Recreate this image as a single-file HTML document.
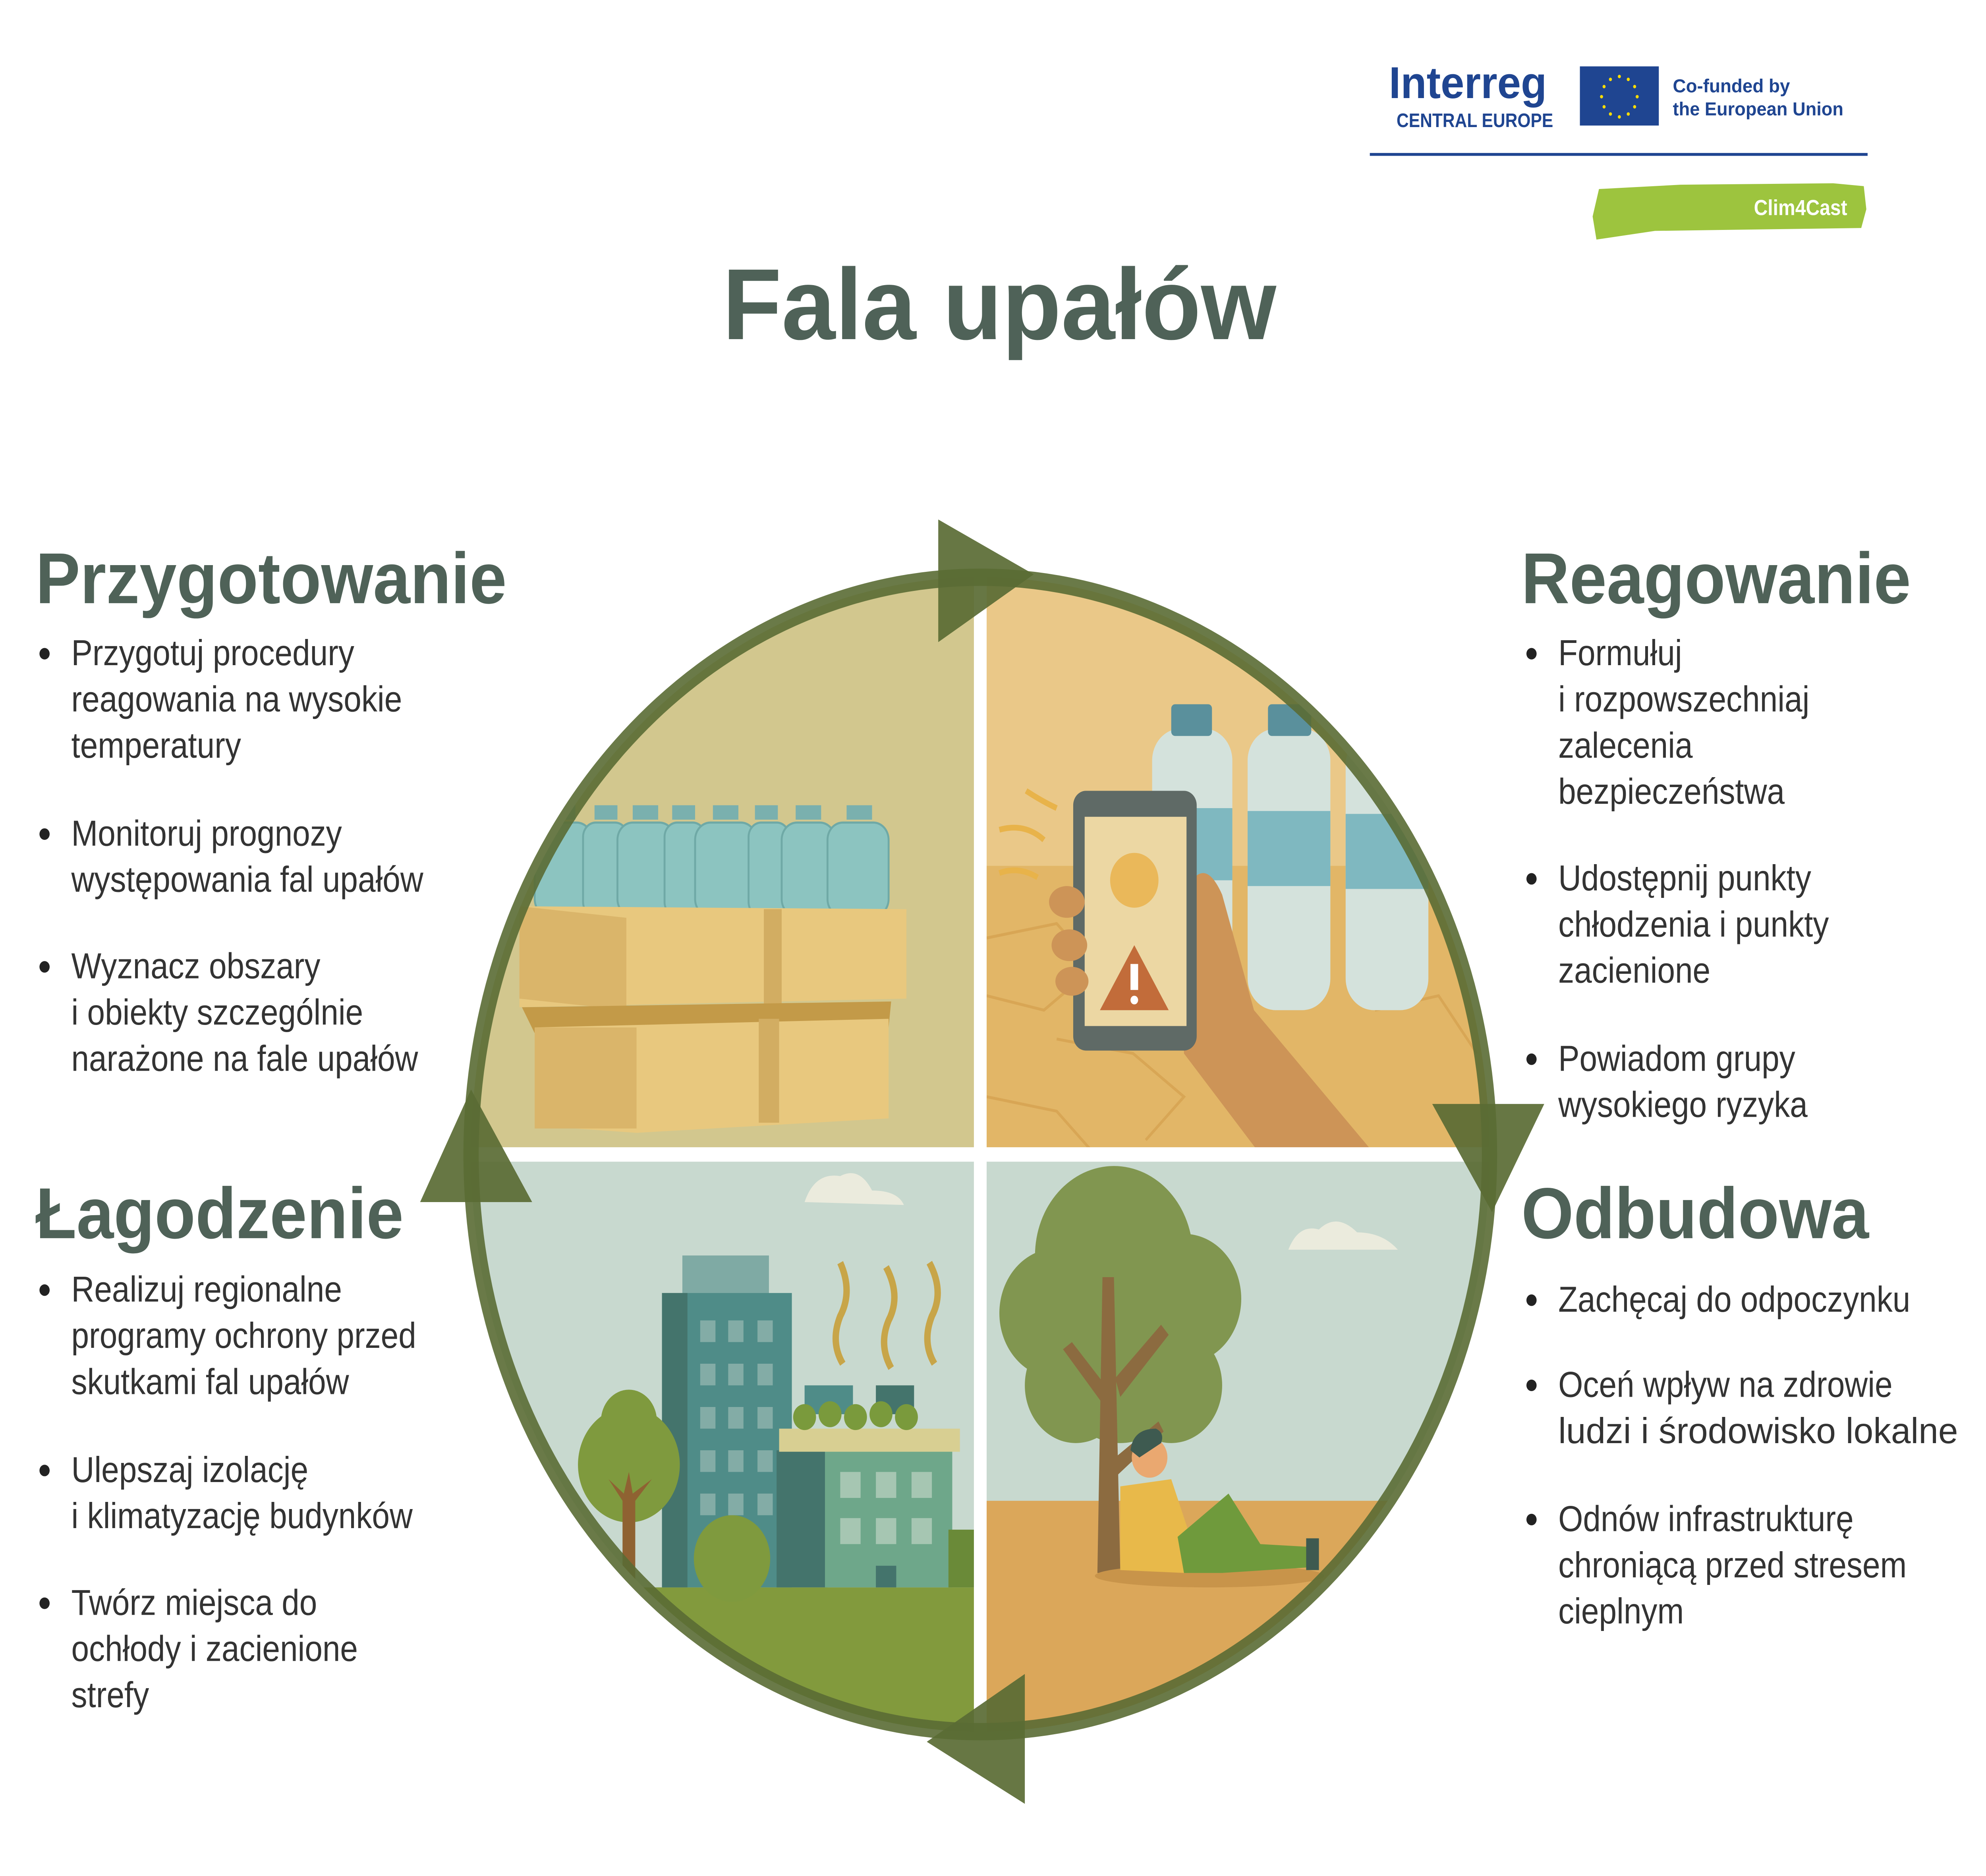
<!DOCTYPE html>
<html><head><meta charset="utf-8"><style>html,body{margin:0;padding:0;background:#fff;width:100%;height:100%;overflow:hidden}svg{display:block;width:100vw;height:100vh}</style></head>
<body>
<svg viewBox="0 0 1560 1300" preserveAspectRatio="none" xmlns="http://www.w3.org/2000/svg" font-family="'Liberation Sans', sans-serif">
<defs>
<clipPath id="c"><circle cx="770" cy="800" r="400"/></clipPath>
</defs>
<rect width="1560" height="1300" fill="#fff"/>
<text x="1091" y="68" font-size="31" font-weight="bold" fill="#1f4591" textLength="124" lengthAdjust="spacingAndGlyphs">Interreg</text>
<text x="1097" y="88" font-size="13.5" font-weight="bold" fill="#1f4591" textLength="123" lengthAdjust="spacingAndGlyphs">CENTRAL EUROPE</text>
<rect x="1241" y="46" width="62" height="41" fill="#1f4591"/>
<g fill="#ffdd00">
<circle cx="1272" cy="53" r="1.2"/><circle cx="1279" cy="55" r="1.2"/><circle cx="1284" cy="60" r="1.2"/><circle cx="1286" cy="67" r="1.2"/><circle cx="1284" cy="74" r="1.2"/><circle cx="1279" cy="79" r="1.2"/><circle cx="1272" cy="81" r="1.2"/><circle cx="1265" cy="79" r="1.2"/><circle cx="1260" cy="74" r="1.2"/><circle cx="1258" cy="67" r="1.2"/><circle cx="1260" cy="60" r="1.2"/><circle cx="1265" cy="55" r="1.2"/>
</g>
<text x="1314" y="64" font-size="13" font-weight="bold" fill="#1f4591" textLength="92" lengthAdjust="spacingAndGlyphs">Co-funded by</text>
<text x="1314" y="80" font-size="13" font-weight="bold" fill="#1f4591" textLength="134" lengthAdjust="spacingAndGlyphs">the European Union</text>
<rect x="1076" y="106" width="391" height="2" fill="#1f4591"/>
<path d="M1256 131 L1320 128 L1440 127 L1464 129 L1466 145 L1462 158 L1300 160 L1254 166 L1251 150 Z" fill="#9dc43e"/>
<text x="1451" y="149" font-size="15" font-weight="bold" fill="#fff" text-anchor="end">Clim4Cast</text>
<text x="785" y="235" font-size="70" font-weight="bold" fill="#4f6258" text-anchor="middle" textLength="435" lengthAdjust="spacingAndGlyphs">Fala upałów</text>

<g clip-path="url(#c)">
<rect x="360" y="390" width="410" height="410" fill="#d2c78e"/>
<rect x="770" y="390" width="420" height="410" fill="#eac888"/>
<rect x="770" y="600" width="420" height="200" fill="#e2b667"/>
<rect x="360" y="800" width="410" height="420" fill="#c8d9cf"/>
<rect x="770" y="800" width="420" height="420" fill="#c8d9cf"/>
<rect x="770" y="1040" width="420" height="180" fill="#dba75a"/>
<rect x="360" y="1100" width="410" height="120" fill="#829a3d"/>
<g fill="#8cc4c0" stroke="#6fa9a6" stroke-width="1.5">
<rect x="420" y="570" width="45" height="65" rx="12"/><rect x="458" y="570" width="35" height="65" rx="10"/><rect x="485" y="570" width="45" height="65" rx="12"/><rect x="522" y="570" width="32" height="65" rx="10"/><rect x="546" y="570" width="48" height="65" rx="12"/><rect x="588" y="570" width="32" height="65" rx="10"/><rect x="614" y="570" width="42" height="65" rx="12"/><rect x="650" y="570" width="48" height="65" rx="12"/>
</g>
<g fill="#7ab0ae"><rect x="432" y="558" width="20" height="10"/><rect x="467" y="558" width="18" height="10"/><rect x="497" y="558" width="20" height="10"/><rect x="528" y="558" width="18" height="10"/><rect x="560" y="558" width="20" height="10"/><rect x="593" y="558" width="18" height="10"/><rect x="625" y="558" width="20" height="10"/><rect x="665" y="558" width="20" height="10"/></g>
<path d="M408 628 L712 630 L712 692 L408 698 Z" fill="#e8c87e"/>
<path d="M408 628 L492 636 L492 700 L408 692 Z" fill="#dab56a"/>
<rect x="600" y="630" width="14" height="68" fill="#d2ad62"/>
<path d="M410 698 L700 694 L698 712 L420 716 Z" fill="#c39a48"/>
<path d="M420 712 L698 706 L698 775 L500 785 L420 780 Z" fill="#e8c87e"/>
<rect x="420" y="712" width="80" height="70" fill="#dab56a"/>
<rect x="596" y="706" width="16" height="72" fill="#d2ad62"/>
<g stroke="#d8a655" stroke-width="2" fill="none"><path d="M775 650 L830 640 L860 670 L820 700 L775 690 M830 720 L890 730 L930 760 L900 790 M775 760 L830 770 L860 800 M960 720 L1010 740 L1040 790 M1080 700 L1130 690 L1160 730"/></g>
<g>
<rect x="905" y="505" width="63" height="195" rx="22" fill="#d4e2dc"/><rect x="905" y="560" width="63" height="50" fill="#7fb8c0"/><rect x="920" y="488" width="32" height="22" rx="3" fill="#5a909c"/>
<rect x="980" y="505" width="65" height="195" rx="22" fill="#d4e2dc"/><rect x="980" y="562" width="65" height="52" fill="#7fb8c0"/><rect x="996" y="488" width="34" height="22" rx="3" fill="#5a909c"/>
<rect x="1057" y="508" width="65" height="192" rx="22" fill="#d4e2dc"/><rect x="1057" y="564" width="65" height="52" fill="#7fb8c0"/><rect x="1073" y="490" width="34" height="22" rx="3" fill="#5a909c"/>
</g>
<path d="M930 620 Q945 590 960 620 L985 700 L1080 800 L990 800 L930 730 Z" fill="#cd9457"/>
<rect x="843" y="548" width="97" height="180" rx="10" fill="#5f6a66"/>
<rect x="852" y="566" width="80" height="145" fill="#ecd7a3"/>
<circle cx="891" cy="610" r="19" fill="#eab85a"/>
<path d="M891 655 L918 700 L864 700 Z" fill="#c26c3a"/>
<rect x="888" y="668" width="6" height="18" fill="#fff"/><circle cx="891" cy="693" r="3" fill="#fff"/>
<g fill="#cd9457"><ellipse cx="838" cy="625" rx="14" ry="11"/><ellipse cx="840" cy="655" rx="14" ry="11"/><ellipse cx="842" cy="680" rx="13" ry="10"/></g>
<g stroke="#e8b34a" stroke-width="4" fill="none"><path d="M806 548 Q818 555 830 560"/><path d="M785 575 Q805 570 820 582"/><path d="M785 605 Q800 600 815 608"/></g>
<path d="M632 833 Q640 812 660 815 Q675 808 685 825 Q705 825 710 835 Z" fill="#ebebdd"/>
<rect x="536" y="870" width="68" height="30" fill="#7faaa4"/>
<rect x="520" y="896" width="102" height="204" fill="#4f8c88"/>
<rect x="520" y="896" width="20" height="204" fill="#44746c"/>
<g fill="#83aca6"><rect x="550" y="915" width="12" height="15"/><rect x="572" y="915" width="12" height="15"/><rect x="595" y="915" width="12" height="15"/><rect x="550" y="945" width="12" height="15"/><rect x="572" y="945" width="12" height="15"/><rect x="595" y="945" width="12" height="15"/><rect x="550" y="975" width="12" height="15"/><rect x="572" y="975" width="12" height="15"/><rect x="595" y="975" width="12" height="15"/><rect x="550" y="1005" width="12" height="15"/><rect x="572" y="1005" width="12" height="15"/><rect x="595" y="1005" width="12" height="15"/><rect x="550" y="1035" width="12" height="15"/><rect x="572" y="1035" width="12" height="15"/><rect x="595" y="1035" width="12" height="15"/></g>
<rect x="610" y="1005" width="40" height="95" fill="#44746c"/>
<rect x="648" y="1005" width="100" height="95" fill="#6ea78a"/>
<rect x="612" y="990" width="142" height="16" fill="#d8cf92"/>
<rect x="632" y="960" width="38" height="20" fill="#4f8c88"/><rect x="688" y="960" width="30" height="20" fill="#44746c"/>
<g fill="#7a9a3c"><circle cx="632" cy="982" r="9"/><circle cx="652" cy="980" r="9"/><circle cx="672" cy="982" r="9"/><circle cx="692" cy="980" r="9"/><circle cx="712" cy="982" r="9"/></g>
<g fill="#a6c6b2"><rect x="660" y="1020" width="16" height="18"/><rect x="688" y="1020" width="16" height="18"/><rect x="716" y="1020" width="16" height="18"/><rect x="660" y="1052" width="16" height="18"/><rect x="688" y="1052" width="16" height="18"/><rect x="716" y="1052" width="16" height="18"/></g>
<rect x="688" y="1085" width="16" height="15" fill="#44746c"/>
<g stroke="#c8a548" stroke-width="5" fill="none"><path d="M660 875 Q670 895 660 912 Q652 930 662 945"/><path d="M696 878 Q708 898 698 915 Q690 932 700 948"/><path d="M730 875 Q742 895 732 912 Q724 930 734 945"/></g>
<circle cx="494" cy="1015" r="40" fill="#7f9a3e"/><circle cx="494" cy="985" r="22" fill="#7f9a3e"/>
<path d="M489 1040 L489 1100 L499 1100 L499 1040 L512 1025 L497 1035 L494 1020 L490 1035 L478 1025 Z" fill="#8f6232"/>
<circle cx="575" cy="1080" r="30" fill="#7f9a3e"/>
<rect x="745" y="1060" width="25" height="40" fill="#6a8a38"/>
<path d="M1012 866 Q1020 848 1036 852 Q1050 840 1066 854 Q1086 854 1098 866 Z" fill="#ebebdd"/>
<g fill="#819650"><circle cx="875" cy="870" r="62"/><circle cx="830" cy="910" r="45"/><circle cx="930" cy="900" r="45"/><circle cx="845" cy="960" r="40"/><circle cx="920" cy="960" r="40"/><circle cx="880" cy="950" r="50"/></g>
<path d="M866 885 L875 885 L880 1090 L862 1090 Z" fill="#8c6b40"/>
<path d="M868 975 L835 935 L842 930 L870 962 Z M876 955 L912 918 L918 925 L880 968 Z M876 1010 L910 985 L914 992 L878 1022 Z" fill="#8c6b40"/>
<ellipse cx="950" cy="1092" rx="90" ry="8" fill="#c8944a"/>
<path d="M880 1030 L920 1025 L935 1065 L930 1090 L880 1088 Z" fill="#e8b94a"/>
<circle cx="903" cy="1010" r="14" fill="#eaa870"/>
<path d="M888 1005 Q890 990 908 990 Q915 993 912 1000 L895 1010 Z" fill="#3e5a50"/>
<path d="M925 1065 L965 1035 L990 1070 L1030 1072 L1030 1086 L960 1090 L930 1090 Z" fill="#6f9a3c"/>
<rect x="1026" y="1066" width="10" height="22" fill="#3e5a50"/>
</g>
<rect x="765" y="380" width="10" height="840" fill="#fff"/>
<rect x="360" y="795" width="820" height="10" fill="#fff"/>
<circle cx="770" cy="800" r="400" fill="none" stroke="#5a6b34" stroke-width="12" opacity="0.9"/>
<g fill="#5a6b34" opacity="0.92">
<path d="M737 360 L812 398 L737 445 Z"/>
<path d="M1125 765 L1213 765 L1172 840 Z"/>
<path d="M805 1160 L728 1207 L805 1250 Z"/>
<path d="M330 833 L370 755 L418 833 Z"/>
</g>
<g font-size="50" font-weight="bold" fill="#4f6258">
<text x="28" y="418" textLength="370" lengthAdjust="spacingAndGlyphs">Przygotowanie</text>
<text x="28" y="858" textLength="289" lengthAdjust="spacingAndGlyphs">Łagodzenie</text>
<text x="1195" y="418" textLength="306" lengthAdjust="spacingAndGlyphs">Reagowanie</text>
<text x="1195" y="858" textLength="273" lengthAdjust="spacingAndGlyphs">Odbudowa</text>
</g>
<g fill="#222"><circle cx="35" cy="453" r="4"/><circle cx="35" cy="578" r="4"/><circle cx="35" cy="670" r="4"/><circle cx="35" cy="894" r="4"/><circle cx="35" cy="1019" r="4"/><circle cx="35" cy="1111" r="4"/>
<circle cx="1203" cy="453" r="4"/><circle cx="1203" cy="609" r="4"/><circle cx="1203" cy="734" r="4"/><circle cx="1203" cy="901" r="4"/><circle cx="1203" cy="960" r="4"/><circle cx="1203" cy="1053" r="4"/></g>
<g font-size="25" fill="#333">
<text x="56" y="461">Przygotuj procedury</text>
<text x="56" y="493">reagowania na wysokie</text>
<text x="56" y="525">temperatury</text>
<text x="56" y="586">Monitoruj prognozy</text>
<text x="56" y="618">występowania fal upałów</text>
<text x="56" y="678">Wyznacz obszary</text>
<text x="56" y="710">i obiekty szczególnie</text>
<text x="56" y="742">narażone na fale upałów</text>
<text x="56" y="902">Realizuj regionalne</text>
<text x="56" y="934">programy ochrony przed</text>
<text x="56" y="966">skutkami fal upałów</text>
<text x="56" y="1027">Ulepszaj izolację</text>
<text x="56" y="1059">i klimatyzację budynków</text>
<text x="56" y="1119">Twórz miejsca do</text>
<text x="56" y="1151">ochłody i zacienione</text>
<text x="56" y="1183">strefy</text>
<text x="1224" y="461">Formułuj</text>
<text x="1224" y="493">i rozpowszechniaj</text>
<text x="1224" y="525">zalecenia</text>
<text x="1224" y="557">bezpieczeństwa</text>
<text x="1224" y="617">Udostępnij punkty</text>
<text x="1224" y="649">chłodzenia i punkty</text>
<text x="1224" y="681">zacienione</text>
<text x="1224" y="742">Powiadom grupy</text>
<text x="1224" y="774">wysokiego ryzyka</text>
<text x="1224" y="909">Zachęcaj do odpoczynku</text>
<text x="1224" y="968">Oceń wpływ na zdrowie</text>
<text x="1224" y="1000" textLength="314" lengthAdjust="spacingAndGlyphs">ludzi i środowisko lokalne</text>
<text x="1224" y="1061">Odnów infrastrukturę</text>
<text x="1224" y="1093">chroniącą przed stresem</text>
<text x="1224" y="1125">cieplnym</text>
</g>
</svg>
</body></html>
